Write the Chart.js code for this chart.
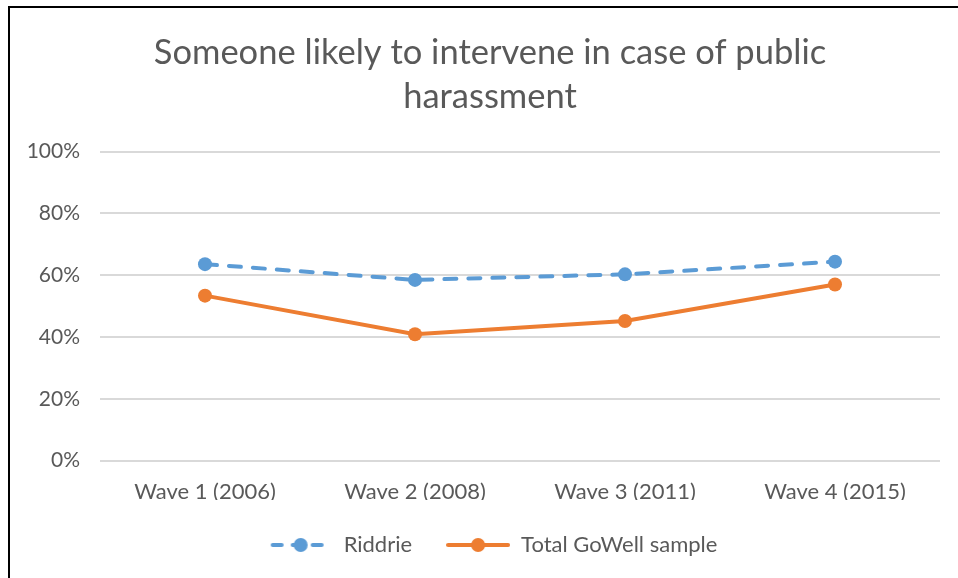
<!DOCTYPE html>
<html>
<head>
<meta charset="utf-8">
<script src="https://cdn.jsdelivr.net/npm/chart.js@4"></script>
<style>
  html, body { margin: 0; padding: 0; background: #fff; }
  body { width: 958px; height: 578px; position: relative; overflow: hidden; }
  #frame {
    position: absolute; left: 8px; top: 6px;
    width: 948px; height: 570px;
    border-left: 2px solid #000; border-top: 2px solid #000;
  }
  #chart { display: block; }
</style>
</head>
<body>
<div id="frame"><canvas id="chart" width="948" height="570"></canvas></div>
<script>
const waves = ['Wave 1 (2006)', 'Wave 2 (2008)', 'Wave 3 (2011)', 'Wave 4 (2015)'];
const riddrie = [63.6, 58.5, 60.3, 64.4];
const gowell = [53.4, 40.9, 45.2, 57.0];
const yTicks = [0, 20, 40, 60, 80, 100];

const blue = '#5b9bd5';
const orange = '#ed7d31';
const grey = '#595959';
const font = 'Lato, "Liberation Sans", sans-serif';

// legend swatch: a short line with a dot in the middle, like Excel
function legendIcon(color, dashed) {
  const c = document.createElement('canvas');
  c.width = 64; c.height = 20;
  const g = c.getContext('2d');
  g.strokeStyle = color;
  g.lineWidth = 4;
  g.lineCap = 'round';
  if (dashed) g.setLineDash([9, 11]);
  g.beginPath();
  g.moveTo(dashed ? 4 : 2, 10);
  g.lineTo(dashed ? 60 : 62, 10);
  g.stroke();
  g.setLineDash([]);
  g.fillStyle = color;
  g.beginPath();
  g.arc(32, 10, 7, 0, Math.PI * 2);
  g.fill();
  return c;
}
const icons = [legendIcon(blue, true), legendIcon(orange, false)];

// title and legend sit a little right of centre in the original
const nudge = {
  id: 'nudge',
  afterLayout(chart) {
    chart.legend.left += 9; chart.legend.right += 9;
    chart.titleBlock.left += 6; chart.titleBlock.right += 6;
  }
};

new Chart(document.getElementById('chart').getContext('2d'), {
  type: 'line',
  data: {
    labels: waves,
    datasets: [
      {
        label: 'Riddrie', data: riddrie,
        borderColor: blue, backgroundColor: blue,
        borderWidth: 4, borderDash: [12, 12], borderCapStyle: 'round',
        pointRadius: 7, pointHoverRadius: 7, pointBorderWidth: 0,
        fill: false, tension: 0
      },
      {
        label: 'Total GoWell sample', data: gowell,
        borderColor: orange, backgroundColor: orange,
        borderWidth: 4, borderCapStyle: 'round',
        pointRadius: 7, pointHoverRadius: 7, pointBorderWidth: 0,
        fill: false, tension: 0
      }
    ]
  },
  plugins: [nudge],
  options: {
    responsive: false,
    animation: false,
    layout: { padding: { left: 18, right: 18, top: 12, bottom: 12 } },
    plugins: {
      title: {
        display: true,
        text: ['Someone likely to intervene in case of public', 'harassment'],
        color: grey,
        font: { family: font, size: 34.5, weight: 'normal', lineHeight: 1.3 },
        padding: { top: 10, bottom: 32 }
      },
      legend: {
        position: 'bottom',
        labels: {
          color: grey,
          font: { family: font, size: 22 },
          usePointStyle: true,
          pointStyleWidth: 64,
          boxHeight: 20,
          padding: 34,
          generateLabels(chart) {
            const items = Chart.defaults.plugins.legend.labels.generateLabels(chart);
            items.forEach((it, i) => { it.pointStyle = icons[i]; });
            return items;
          }
        }
      },
      tooltip: { enabled: false }
    },
    scales: {
      x: {
        offset: true,
        grid: { display: false, drawTicks: false },
        border: { display: false },
        // legend padding is wide for the gap between items; take it back here
        afterFit(scale) { scale.height -= 23; },
        ticks: { color: grey, font: { family: font, size: 22 }, padding: 18 }
      },
      y: {
        min: 0, max: 100,
        afterBuildTicks(scale) { scale.ticks = yTicks.map(v => ({ value: v })); },
        afterFit(scale) { scale.width = 72; },
        grid: { color: '#d9d9d9', lineWidth: 2, drawTicks: false },
        border: { display: false },
        ticks: {
          color: grey, font: { family: font, size: 21 }, padding: 20,
          callback: v => v + '%'
        }
      }
    }
  }
});
</script>
</body>
</html>
